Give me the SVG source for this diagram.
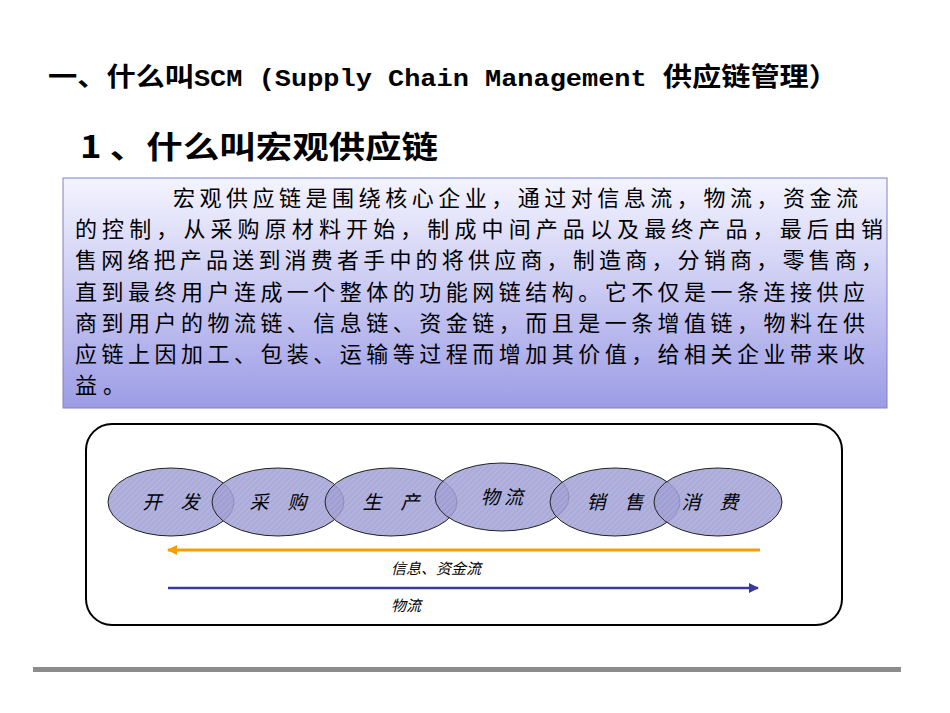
<svg xmlns="http://www.w3.org/2000/svg" width="950" height="713" viewBox="0 0 950 713">
<defs>
<linearGradient id="bg" x1="0" y1="0" x2="0" y2="1"><stop offset="0" stop-color="#f4f4ff"/><stop offset="1" stop-color="#9c9ce6"/></linearGradient>
<pattern id="hatch" width="4" height="4" patternUnits="userSpaceOnUse" patternTransform="rotate(45)"><rect width="4" height="4" fill="#9d9dd3"/><line x1="0" y1="0" x2="0" y2="4" stroke="#b0b0de" stroke-width="1.5"/></pattern>
<marker id="ao" markerWidth="10" markerHeight="10" refX="9" refY="5" orient="auto" markerUnits="userSpaceOnUse"><path d="M0,0 L10,5 L0,10 Z" fill="#f5a000"/></marker>
<marker id="ab" markerWidth="10" markerHeight="10" refX="9" refY="5" orient="auto" markerUnits="userSpaceOnUse"><path d="M0,0 L10,5 L0,10 Z" fill="#3a3a9a"/></marker>
</defs>
<style>
.t{font-family:"Noto Sans CJK SC","Liberation Sans",sans-serif;font-weight:bold;fill:#000}
.b{font-family:"Noto Sans CJK SC",sans-serif;font-size:22px;fill:#000}
.e{fill:url(#hatch);fill-opacity:0.85;stroke:#222;stroke-width:1}
.el{font-family:"Noto Sans CJK SC",sans-serif;font-size:19px;font-style:italic;fill:#000}
.sm{font-family:"Noto Sans CJK SC",sans-serif;font-size:15px;font-style:italic;fill:#000}
</style>
<rect width="950" height="713" fill="#fff"/>
<text class="t" x="48" y="86" font-size="26" textLength="790" lengthAdjust="spacingAndGlyphs">一、什么叫<tspan font-family="Liberation Mono,monospace" font-size="24">SCM (Supply Chain Management </tspan>供应链管理）</text>
<text class="t" x="80" y="158" font-size="31" textLength="358" lengthAdjust="spacingAndGlyphs">1 、什么叫宏观供应链</text>
<g id="desc">
<rect x="63" y="178" width="824" height="230" fill="url(#bg)" stroke="#8080c0" stroke-width="1"/>
<text class="b" x="173" y="206" textLength="685">宏观供应链是围绕核心企业，通过对信息流，物流，资金流</text>
<text class="b" x="75" y="237" textLength="808">的控制，从采购原材料开始，制成中间产品以及最终产品，最后由销</text>
<text class="b" x="75" y="268" textLength="808">售网络把产品送到消费者手中的将供应商，制造商，分销商，零售商，</text>
<text class="b" x="75" y="300" textLength="790">直到最终用户连成一个整体的功能网链结构。它不仅是一条连接供应</text>
<text class="b" x="75" y="331" textLength="790">商到用户的物流链、信息链、资金链，而且是一条增值链，物料在供</text>
<text class="b" x="75" y="362" textLength="790">应链上因加工、包装、运输等过程而增加其价值，给相关企业带来收</text>
<text class="b" x="75" y="393" textLength="50">益。</text>
</g>
<g id="frame"><rect x="86" y="424" width="756" height="201" rx="26" fill="#fff" stroke="#000" stroke-width="2"/></g>
<g id="n1"><ellipse class="e" cx="171" cy="502" rx="63" ry="34"/><text class="el" x="171" y="509" text-anchor="middle">开　发</text></g>
<g id="n2"><ellipse class="e" cx="278" cy="502" rx="66" ry="34"/><text class="el" x="278" y="509" text-anchor="middle">采　购</text></g>
<g id="n3"><ellipse class="e" cx="391" cy="502" rx="66" ry="34"/><text class="el" x="391" y="509" text-anchor="middle">生　产</text></g>
<g id="n4"><ellipse class="e" cx="502" cy="497" rx="67" ry="34"/><text class="el" x="502" y="504" text-anchor="middle">物 流</text></g>
<g id="n5"><ellipse class="e" cx="615" cy="502" rx="65" ry="34"/><text class="el" x="615" y="509" text-anchor="middle">销　售</text></g>
<g id="n6"><ellipse class="e" cx="718" cy="502" rx="64" ry="34"/><text class="el" x="710" y="509" text-anchor="middle">消　费</text></g>
<g id="connectors">
<line x1="760" y1="550" x2="168" y2="550" stroke="#f5a000" stroke-width="3" marker-end="url(#ao)"/>
<line x1="168" y1="588" x2="758" y2="588" stroke="#3a3a9a" stroke-width="2.5" marker-end="url(#ab)"/>
</g>
<text class="sm" x="436" y="574" text-anchor="middle">信息、资金流</text>
<text class="sm" x="406" y="611" text-anchor="middle">物流</text>
<rect x="33" y="667" width="868" height="5" fill="#8c8c8c"/>
</svg>
